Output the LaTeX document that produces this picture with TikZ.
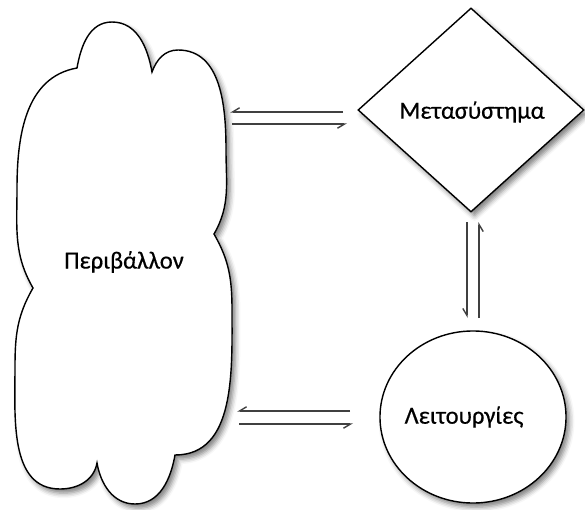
\documentclass[tikz,border=0pt]{standalone}
\usepackage{fontspec}
\setmainfont{Carlito}[FakeBold=0.5]
\usepackage{tikz}
\usetikzlibrary{arrows.meta,shapes.geometric,shadows.blur}
\tikzset{Shp/.style={draw,line width=1pt,fill=white,
    blur shadow={shadow xshift=2.5pt,shadow yshift=-3pt,shadow blur radius=3.5pt,shadow opacity=50}}}
\tikzset{Lbl/.style={font=\fontsize{17.5}{20}\selectfont}}
\tikzset{harp/.style={-{Straight Barb[harpoon,swap,length=5pt,width=6pt]},line width=1pt,draw=black!75}}

\begin{document}
\begin{tikzpicture}[x=0.025cm,y=0.025cm]
    \useasboundingbox (0,0) rectangle (585,509);
    % cloud
    \draw[Shp] (77,441) to[out=80,in=180] (112,487) to[out=0,in=100] (152,437)
      to[out=70,in=180] (178,459) to[out=0,in=90] (226,359)
      to[out=-90,in=60] (214,275) to[out=-60,in=90] (232,199)
      to[out=-90,in=0] (175,54) to[out=-100,in=0] (135,5)
      to[out=180,in=-80] (97,46) to[out=-100,in=0] (60,20)
      to[out=180,in=-90] (15,142) to[out=90,in=-120] (33,221)
      to[out=120,in=-90] (17,320) to[out=90,in=190] cycle;
    \node[Lbl] (Env) at (124,247) {Περιβάλλον};
    \node[Shp,diamond,minimum width=5.65cm,minimum height=5.1cm] (Meta) at (471,399) {};
    \node[Lbl] (MetaTxt) at (472,397) {Μετασύστημα};
    \node[Shp,ellipse,minimum width=4.65cm,minimum height=4.3cm] (Func) at (473,92) {};
    \node[Lbl] (FuncTxt) at (464,92) {Λειτουργίες};
    % arrow ends
    \coordinate (EnvA) at (230,397);
    \coordinate (EnvB) at (232,385);
    \coordinate (MetaA) at (343,397);
    \coordinate (MetaB) at (347,385);
    \coordinate (EnvC) at (237,98);
    \coordinate (EnvD) at (239,85);
    \coordinate (FuncC) at (350,98);
    \coordinate (FuncD) at (353,85);
    \coordinate (MetaC) at (467,287);
    \coordinate (MetaD) at (479,287);
    \coordinate (FuncA) at (467,191);
    \coordinate (FuncB) at (479,191);
    \draw[harp] (MetaA) -- (EnvA);
    \draw[harp] (EnvB) -- (MetaB);
    \draw[harp] (FuncC) -- (EnvC);
    \draw[harp] (EnvD) -- (FuncD);
    \draw[harp] (MetaC) -- (FuncA);
    \draw[harp] (FuncB) -- (MetaD);
  \end{tikzpicture}
\end{document}
